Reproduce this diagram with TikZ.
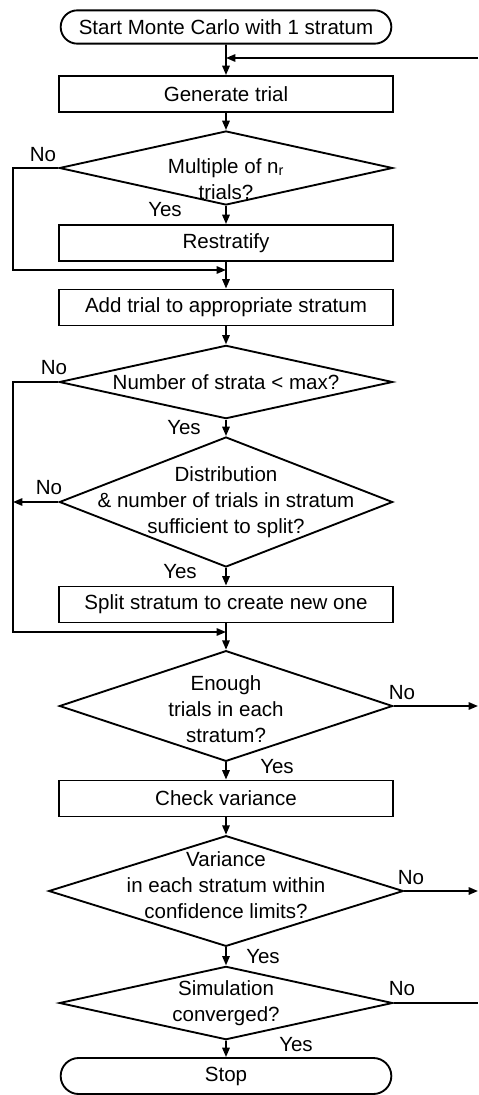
\documentclass[tikz,border=0pt]{standalone}
\usepackage{fontspec}
\setmainfont{Liberation Sans}
\usetikzlibrary{arrows.meta, shapes.geometric, shapes.misc}

\begin{document}
\begin{tikzpicture}[
  x=0.75pt, y=-0.75pt,
  font=\fontsize{15.4}{19.5}\selectfont,
  line width=1.4pt, >={Triangle[length=7pt,width=5.5pt]},
  box/.style={rectangle, draw, minimum width=251pt, minimum height=27pt,
              inner sep=2pt},
  terminal/.style={rounded rectangle, draw, minimum width=252pt,
                   minimum height=25pt, inner sep=2pt},
  decision/.style={diamond, draw, inner sep=0pt, minimum width=250pt},
  lbl/.style={inner sep=0pt},
]
\useasboundingbox (0,0) rectangle (478,1095);
\node[terminal] (start)   at (226,27)    {Start Monte Carlo with 1 stratum};
\node[box]      (gen)     at (226,94)    {Generate trial};
\node[decision, minimum height=55.5pt,
      label={[align=center, yshift=-8pt]center:Multiple of n\textsubscript{r}\\trials?}]
                (d1)      at (226,168)   {};
\node[box]      (restrat) at (226,243)   {Restratify};
\node[box]      (addtr)   at (226,307.5) {Add trial to appropriate stratum};
\node[decision, minimum height=55pt,
      label={center:Number of strata < max?}]
                (d2)      at (226,382)   {};
\node[decision, minimum height=97.5pt,
      label={[align=center]center:Distribution\\\& number of trials in stratum\\sufficient to split?}]
                (d3)      at (226,502)   {};
\node[box]      (split)   at (226,604.5) {Split stratum to create new one};
\node[decision, minimum height=83pt,
      label={[align=center, yshift=-2pt]center:Enough\\trials in each\\stratum?}]
                (d4)      at (226,706)   {};
\node[box]      (check)   at (226,798.5) {Check variance};
\node[decision, minimum width=266pt, minimum height=83pt,
      label={[align=center, yshift=4.5pt]center:Variance\\in each stratum within\\confidence limits?}]
                (d5)      at (226,891)   {};
\node[decision, minimum height=55pt,
      label={[align=center]center:Simulation\\converged?}]
                (d6)      at (226,1003)  {};
\node[terminal, minimum height=27pt] (stop) at (226,1076) {Stop};

\coordinate (rail) at (13,0);
\coordinate (edge) at (478,0);
\coordinate (fb)   at (478,58);
\coordinate (m1)   at (226,270);
\coordinate (m2)   at (226,632);

\draw[->] (start) -- (gen);
\draw[->] (fb) -- (fb -| start.south);
\draw[->] (gen) -- (d1);
\draw[->] (d1) -- (restrat);
\draw[->] (d1.west) -- (d1.west -| rail) |- (m1);
\draw[->] (restrat) -- (addtr);
\draw[->] (addtr) -- (d2);
\draw[->] (d2.west) -- (d2.west -| rail) |- (m2);
\draw[->] (d2) -- (d3);
\draw[->] (d3.west) -- (d3.west -| rail);
\draw[->] (d3) -- (split);
\draw[->] (split) -- (d4);
\draw[->] (d4.east) -- (d4.east -| edge);
\draw[->] (d4) -- (check);
\draw[->] (check) -- (d5);
\draw[->] (d5.east) -- (d5.east -| edge);
\draw[->] (d5) -- (d6);
\draw (d6.east) -- (d6.east -| edge);
\draw[->] (d6) -- (stop);

\node[lbl] (no1)  at (43,155)   {No};
\node[lbl] (yes1) at (165,210)  {Yes};
\node[lbl] (no2)  at (54,368)   {No};
\node[lbl] (yes2) at (184,428)  {Yes};
\node[lbl] (no3)  at (49,488)   {No};
\node[lbl] (yes3) at (180,572)  {Yes};
\node[lbl] (no4)  at (402,693)  {No};
\node[lbl] (yes4) at (277,767)  {Yes};
\node[lbl] (no5)  at (411,878)  {No};
\node[lbl] (yes5) at (263,957)  {Yes};
\node[lbl] (no6)  at (402,989)  {No};
\node[lbl] (yes6) at (296,1045) {Yes};
\end{tikzpicture}
\end{document}
